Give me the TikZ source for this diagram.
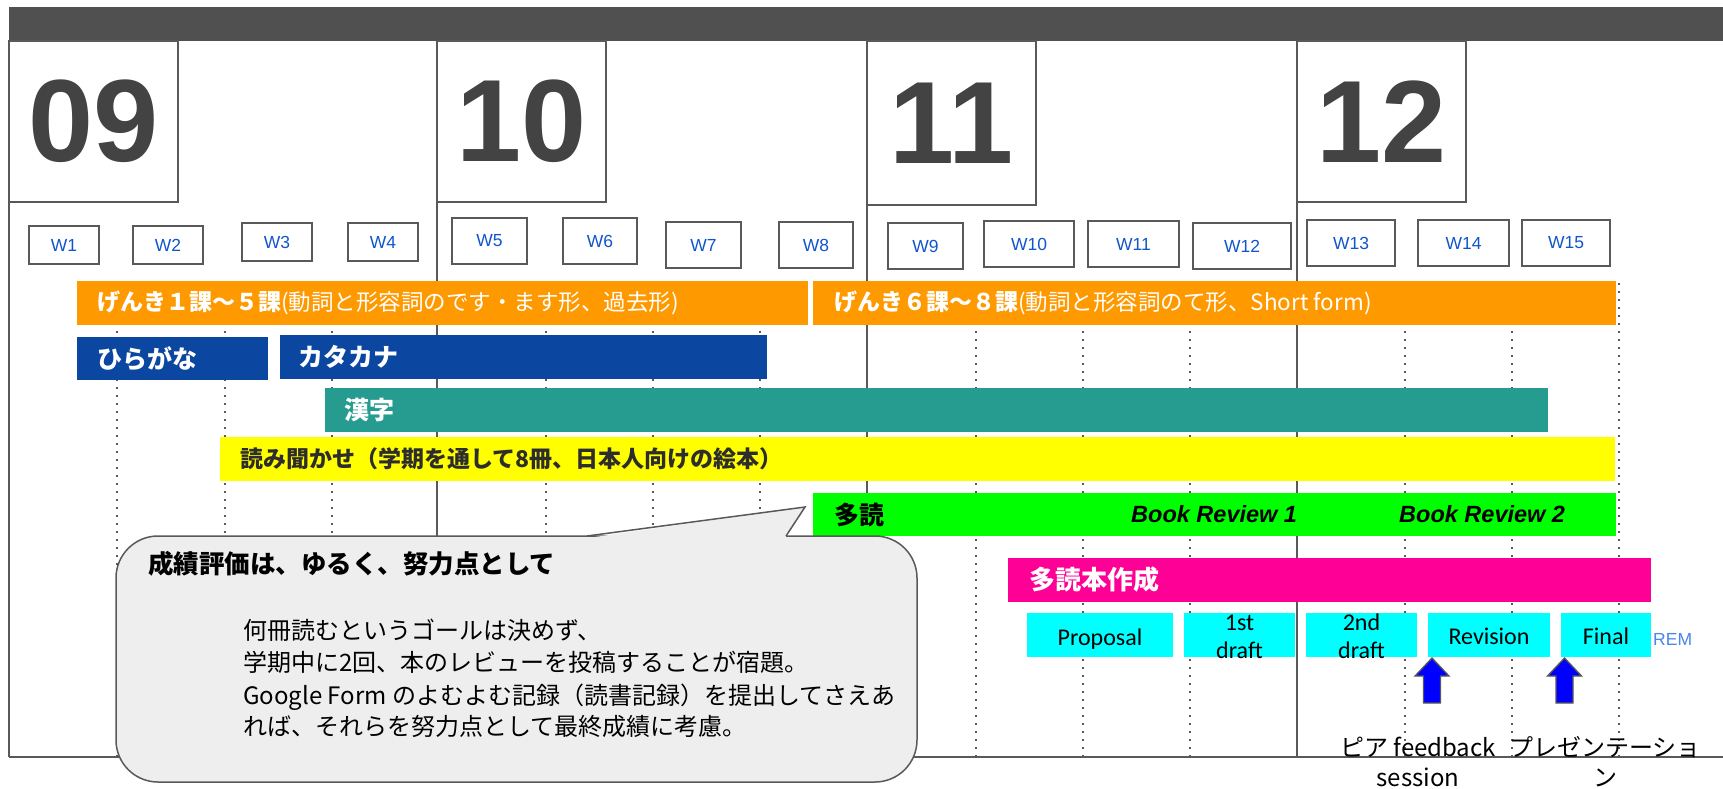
\documentclass[tikz,border=0pt]{standalone}
\usepackage{fontspec}
\setmainfont{Liberation Sans}
\newfontfamily\jp{Noto Sans CJK JP}
\newfontfamily\carl{Carlito}
\newcommand\fsz[1]{\fontsize{#1}{#1}\selectfont}
\definecolor{darkbar}{RGB}{80,80,80}
\definecolor{pgray}{RGB}{89,89,89}
\definecolor{numgray}{RGB}{67,67,67}
\definecolor{wblue}{RGB}{17,85,204}
\definecolor{orangeb}{RGB}{255,153,0}
\definecolor{blueb}{RGB}{11,71,161}
\definecolor{tealb}{RGB}{38,156,145}
\definecolor{yellowb}{RGB}{255,255,0}
\definecolor{greenb}{RGB}{0,255,0}
\definecolor{pinkb}{RGB}{255,0,150}
\definecolor{cyanb}{RGB}{0,255,255}
\definecolor{callfill}{RGB}{238,238,238}
\definecolor{arrowblue}{RGB}{0,0,255}
\definecolor{remblue}{RGB}{74,134,232}
\definecolor{textdark}{RGB}{45,45,45}
\newcommand\mkbox[6]{\node[boxbase,fill=#6,minimum width={#4-#2},minimum height={#5-#3},anchor=north west] (#1) at (#2,#3) {};}
\newcommand\wk[6]{\node[wkbox,minimum width={#4-#2},minimum height={#5-#3},anchor=north west] (#1) at (#2,#3) {#6};}
\begin{document}
\begin{tikzpicture}[x=1pt,y=-1pt,
  boxbase/.style={inner sep=0pt,outer sep=0pt,draw=none},
  wkbox/.style={draw=pgray,line width=1.5pt,inner sep=0pt,outer sep=0pt,text=wblue,font=\fsz{17.5}},
  panel/.style={draw=pgray,line width=2pt},
  monthbox/.style={draw=pgray,line width=2pt,inner sep=0pt,outer sep=0pt,text=numgray,font=\bfseries\fsz{117}},
  guide/.style={draw=pgray,line width=1.8pt,dash pattern=on 1.8pt off 6.2pt},
  barlabel/.style={anchor=west,inner sep=0pt,text=white,font=\jp\bfseries\fsz{25}},
  celltext/.style={anchor=base,inner sep=0pt,text=black,font=\carl\fsz{24}},
  callout/.style={draw=pgray,line width=1.5pt,fill=callfill,rounded corners=42pt},
  callline/.style={draw=pgray,line width=1.5pt,line join=miter},
  cbody/.style={anchor=base west,inner sep=0pt,text=black,font=\jp\fsz{24}},
  uparrow/.style={fill=arrowblue,draw=pgray,line width=1.3pt,line join=miter},
  lbl/.style={anchor=base,inner sep=0pt,text=black,font=\jp\fsz{24}}
]
\useasboundingbox (0,0) rectangle (1723,788);
\fill[white] (0,0) rectangle (1723,788);
\fill[darkbar] (9,6.5) rectangle (1723,41);
% panels
\draw[panel] (9,41) -- (9,757);
\draw[panel] (437,41) -- (437,757);
\draw[panel] (867,41) -- (867,757);
\draw[panel] (1297,41) -- (1297,757);
\draw[panel] (9,757) -- (1723,757);
\node[monthbox,minimum width=169,minimum height=161,anchor=north west] (m09) at (9,41) {09};
\node[monthbox,minimum width=169,minimum height=161,anchor=north west] (m10) at (437,41) {10};
\node[monthbox,minimum width=169,minimum height=164,anchor=north west] (m11) at (867,41) {11};
\node[monthbox,minimum width=169,minimum height=161,anchor=north west] (m12) at (1297,41) {12};
% weeks
\wk{w1}{29}{226}{99}{264}{W1}
\wk{w2}{133}{226}{203}{264}{W2}
\wk{w3}{242}{223}{312}{261}{W3}
\wk{w4}{348}{223}{418}{261}{W4}
\wk{w5}{452}{218}{527}{264}{W5}
\wk{w6}{563}{218}{637}{264}{W6}
\wk{w7}{666}{222}{741}{268}{W7}
\wk{w8}{779}{222}{853}{268}{W8}
\wk{w9}{888}{223}{963}{269}{W9}
\wk{w10}{984}{221}{1074}{267}{W10}
\wk{w11}{1088}{221}{1179}{267}{W11}
\wk{w12}{1193}{223}{1291}{269}{W12}
\wk{w13}{1307}{220}{1395}{266}{W13}
\wk{w14}{1418}{220}{1509}{266}{W14}
\wk{w15}{1522}{220}{1610}{266}{W15}
% guides
\foreach \gx in {117,225,332,546,653,760,976,1083,1190,1405,1512,1619}
  \draw[guide] (\gx,283) -- (\gx,757);
% bars
\mkbox{gk1}{77}{281}{808}{325}{orangeb}
\mkbox{gk2}{813}{281}{1616}{325}{orangeb}
\mkbox{hira}{77}{337}{268}{380}{blueb}
\mkbox{kata}{280}{335}{767}{379}{blueb}
\mkbox{kanji}{325}{388}{1548}{432}{tealb}
\mkbox{yomi}{220}{437}{1615}{481}{yellowb}
\mkbox{tadoku}{813}{493}{1616}{536}{greenb}
\mkbox{sakusei}{1008}{558}{1651}{602}{pinkb}
\mkbox{prop}{1027}{613}{1173}{657}{cyanb}
\mkbox{dA}{1184}{613}{1295}{657}{cyanb}
\mkbox{dB}{1306}{613}{1417}{657}{cyanb}
\mkbox{rev}{1428}{613}{1550}{657}{cyanb}
\mkbox{fin}{1561}{613}{1651}{657}{cyanb}
% bar labels
\node[barlabel,font=\jp\fsz{22.5}] (gk1t) at ([xshift=20pt]gk1.west) {{\bfseries\fsz{23}げんき１課〜５課}(動詞と形容詞のです・ます形、過去形)};
\node[barlabel,font=\jp\fsz{22.5}] (gk2t) at ([xshift=21pt]gk2.west) {{\bfseries\fsz{23}げんき６課〜８課}(動詞と形容詞のて形、Short form)};
\node[barlabel] (hirat) at ([xshift=20pt]hira.west) {ひらがな};
\node[barlabel] (katat) at ([xshift=18pt]kata.west) {カタカナ};
\node[barlabel] (kanjit) at ([xshift=19pt]kanji.west) {漢字};
\node[barlabel,text=textdark,font=\jp\bfseries\fsz{23}] (yomit) at ([xshift=20pt]yomi.west) {読み聞かせ（学期を通して8冊、日本人向けの絵本）};
\node[barlabel,text=black] (tadokut) at ([xshift=21pt]tadoku.west) {多読};
\node[barlabel,text=black,font=\bfseries\itshape\fsz{23.5}] (br1) at (1131,514.5) {Book Review 1};
\node[barlabel,text=black,font=\bfseries\itshape\fsz{23.5}] (br2) at (1399,514.5) {Book Review 2};
\node[barlabel,font=\jp\bfseries\fsz{26}] (sakuseit) at ([xshift=21pt]sakusei.west) {多読本作成};
% cell texts
\node[celltext] (propt) at (1100,645) {Proposal};
\node[celltext] (dAa) at (1239.5,630) {1st};
\node[celltext] (dAb) at (1239.5,658) {draft};
\node[celltext] (dBa) at (1361.5,630) {2nd};
\node[celltext] (dBb) at (1361.5,658) {draft};
\node[celltext] (revt) at (1489,644) {Revision};
\node[celltext] (fint) at (1606,644) {Final};
\node[anchor=base west,inner sep=0pt,font=\fsz{17.5},text=remblue] (rem) at (1653,645) {REM};
% callout
\draw[callout] (116,536) rectangle (917,782);
\coordinate (tip) at (805,507);
\fill[callfill] (588,538) -- (tip) -- (785,538) -- cycle;
\draw[callline] (587,536) -- (tip) -- (786,536);
\node[anchor=base west,inner sep=0pt,text=black,font=\jp\bfseries\fsz{25.5}] (ctitle) at (148,573.5) {成績評価は、ゆるく、努力点として};
\node[cbody] (cb1) at (243,639) {何冊読むというゴールは決めず、};
\node[cbody] (cb2) at (243,671) {学期中に2回、本のレビューを投稿することが宿題。};
\node[cbody] (cb3) at (243,704) {Google Form のよむよむ記録（読書記録）を提出してさえあ};
\node[cbody] (cb4) at (243,735) {れば、それらを努力点として最終成績に考慮。};
% arrows
\draw[uparrow] (1432,658) -- (1449,676) -- (1440.5,676) -- (1440.5,703) -- (1423.5,703) -- (1423.5,676) -- (1415,676) -- cycle;
\draw[uparrow] (1564.5,658) -- (1581.5,676) -- (1573,676) -- (1573,703) -- (1556,703) -- (1556,676) -- (1547.5,676) -- cycle;
% bottom labels
\node[lbl] (peer1) at (1418,756) {ピア feedback};
\node[lbl] (peer2) at (1418,786) {session};
\node[lbl] (pres1) at (1605,756) {プレゼンテーショ};
\node[lbl] (pres2) at (1605,786) {ン};
\end{tikzpicture}
\end{document}
